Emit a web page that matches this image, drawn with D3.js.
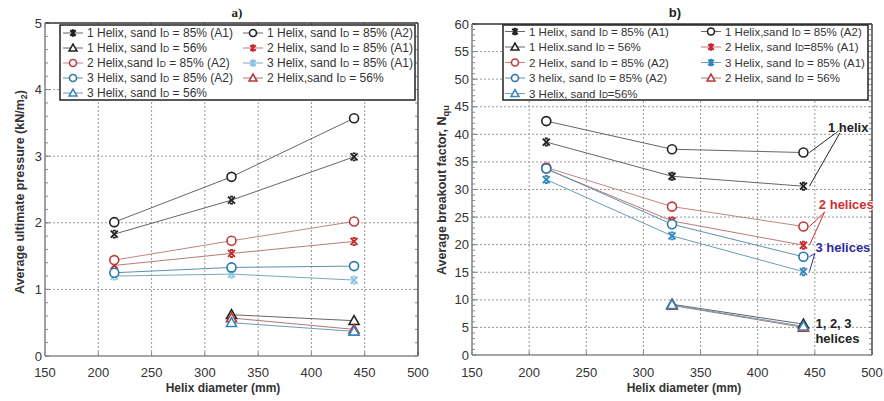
<!DOCTYPE html>
<html><head><meta charset="utf-8">
<script src="https://cdn.jsdelivr.net/npm/d3@7/dist/d3.min.js"></script>
<style>body{margin:0;background:#fff}svg{display:block;font-family:"Liberation Sans",Arial,sans-serif}</style>
</head><body>
<svg id="c" width="884" height="401"></svg>
<script>
// ---------- DATA ----------
const diameters = [215, 325, 440];
const diametersLoose = [325, 440];
const xTicks = [150, 200, 250, 300, 350, 400, 450, 500];
const yTicksA = [0, 1, 2, 3, 4, 5];
const yTicksB = [0, 5, 10, 15, 20, 25, 30, 35, 40, 45, 50, 55, 60];

// a) average ultimate pressure (kN/m2)
const pres1hA1 = [1.83, 2.34, 2.99];
const pres1hA2 = [2.01, 2.69, 3.57];
const pres2hA1 = [1.36, 1.54, 1.72];
const pres2hA2 = [1.44, 1.73, 2.02];
const pres3hA1 = [1.20, 1.23, 1.14];
const pres3hA2 = [1.25, 1.33, 1.35];
const pres1h56 = [0.62, 0.53];
const pres2h56 = [0.57, 0.40];
const pres3h56 = [0.50, 0.37];

// b) average breakout factor Nqu
const nqu1hA1 = [38.6, 32.4, 30.6];
const nqu1hA2 = [42.4, 37.3, 36.7];
const nqu2hA1 = [33.7, 24.3, 19.9];
const nqu2hA2 = [34.0, 26.9, 23.3];
const nqu3hA1 = [31.8, 21.6, 15.1];
const nqu3hA2 = [33.8, 23.7, 17.8];
const nqu1h56 = [9.2, 5.6];
const nqu2h56 = [9.0, 5.0];
const nqu3h56 = [9.1, 5.2];

const legendA = ["1 Helix, sand |D| = 85% (A1)", "1 Helix, sand |D| = 85% (A2)", "1 Helix, sand |D| = 56%", "2 Helix, sand |D| = 85% (A1)",
  "2 Helix,sand |D| = 85% (A2)", "3 Helix, sand |D| = 85% (A1)", "3 Helix, sand |D| = 85% (A2)", "2 Helix,sand |D| = 56%", "3 Helix, sand |D| = 56%"];
const legendB = ["1 Helix, sand |D| = 85% (A1)", "1 Helix,sand |D| = 85% (A2)", "1 Helix.sand |D| = 56%", "2 Helix, sand |D|=85% (A1)",
  "2 Helix, sand |D| = 85% (A2)", "3 Helix, sand |D| = 85% (A1)", "3 helix, sand |D| = 85% (A2)", "2 Helix, sand |D| = 56%", "3 Helix, sand |D|=56%"];

// styles per series (order matches legend order)
const styles = [
  {sym: "x", col: "#222", line: "#666"},
  {sym: "o", col: "#222", line: "#666"},
  {sym: "t", col: "#222", line: "#666"},
  {sym: "x", col: "#c8282d", line: "#b77a7a"},
  {sym: "o", col: "#c23a3a", line: "#c08585"},
  {sym: "x", col: "#86c6e2", line: "#7aa9bf"},
  {sym: "o", col: "#2b77a8", line: "#5f8fa9"},
  {sym: "t", col: "#b83838", line: "#aa7777"},
  {sym: "t", col: "#3a86bb", line: "#6c9cb8"}
];
const stylesB = styles.map((s, i) => i === 5 ? {sym: "x", col: "#2f86b8", line: "#6a9eb6"} : s);

const seriesA = [pres1hA1, pres1hA2, pres1h56, pres2hA1, pres2hA2, pres3hA1, pres3hA2, pres2h56, pres3h56];
const seriesB = [nqu1hA1, nqu1hA2, nqu1h56, nqu2hA1, nqu2hA2, nqu3hA1, nqu3hA2, nqu2h56, nqu3h56];

const svg = d3.select("#c");

function marker(g, sym, col, x, y, k = 1) {
  if (sym === "o") {
    g.append("circle").attr("cx", x).attr("cy", y).attr("r", 4.5 * k).attr("fill", "#fff").attr("stroke", col).attr("stroke-width", 1.6);
  } else if (sym === "t") {
    const s = 5 * k;
    g.append("path").attr("d", `M${x},${y - s} L${x + s},${y + s * 0.75} L${x - s},${y + s * 0.75} Z`)
      .attr("fill", "#fff").attr("stroke", col).attr("stroke-width", 1.6);
  } else {
    const s = 3.5 * k, c = 1.5 * k;
    g.append("path").attr("d", `M${x - s},${y - s} L${x + s},${y + s} M${x - s},${y + s} L${x + s},${y - s} M${x - c},${y - s} L${x + c},${y - s} M${x - c},${y + s} L${x + c},${y + s}`)
      .attr("fill", "none").attr("stroke", col).attr("stroke-width", 1.9);
  }
}

function idText(sel, str) {
  const parts = str.split("|");
  sel.append("tspan").text(parts[0] + "I");
  sel.append("tspan").attr("font-size", "0.72em").text(parts[1]);
  sel.append("tspan").text(parts[2]);
}

function chart(opt) {
  const g = svg.append("g");
  const x = d3.scaleLinear().domain([150, 500]).range([opt.x0, opt.x1]);
  const y = d3.scaleLinear().domain(opt.ydom).range([opt.y0, opt.y1]);
  // grid
  g.selectAll(".gx").data(xTicks.slice(1, -1)).join("line")
    .attr("x1", d => x(d)).attr("x2", d => x(d)).attr("y1", opt.y0).attr("y2", opt.y1)
    .attr("stroke", "#999").attr("stroke-width", 1).attr("stroke-dasharray", "2,2");
  g.selectAll(".gy").data(opt.yticks.slice(1, -1)).join("line")
    .attr("y1", d => y(d)).attr("y2", d => y(d)).attr("x1", opt.x0).attr("x2", opt.x1)
    .attr("stroke", "#999").attr("stroke-width", 1).attr("stroke-dasharray", "2,2");
  // minor ticks
  const minor = d3.range(opt.ydom[0], opt.ydom[1] + 1e-9, opt.minor);
  g.selectAll(".mt").data(minor).join("line")
    .attr("x1", opt.x0).attr("x2", opt.x0 + 3).attr("y1", d => y(d)).attr("y2", d => y(d))
    .attr("stroke", "#888").attr("stroke-width", 1);
  g.selectAll(".mtr").data(minor).join("line")
    .attr("x1", opt.x1).attr("x2", opt.x1 - 3).attr("y1", d => y(d)).attr("y2", d => y(d))
    .attr("stroke", "#888").attr("stroke-width", 1);
  g.selectAll(".xt").data(xTicks).join("line")
    .attr("x1", d => x(d)).attr("x2", d => x(d)).attr("y1", opt.y0).attr("y2", opt.y0 - 4)
    .attr("stroke", "#888");
  g.selectAll(".xtt").data(xTicks).join("line")
    .attr("x1", d => x(d)).attr("x2", d => x(d)).attr("y1", opt.y1).attr("y2", opt.y1 + 4)
    .attr("stroke", "#888");
  g.selectAll(".ytl").data(opt.yticks).join("line")
    .attr("x1", opt.x0).attr("x2", opt.x0 + 5).attr("y1", d => y(d)).attr("y2", d => y(d)).attr("stroke", "#888");
  // frame
  g.append("line").attr("x1", opt.x0).attr("x2", opt.x1).attr("y1", opt.y1).attr("y2", opt.y1).attr("stroke", "#333").attr("stroke-width", 1.6);
  g.append("line").attr("x1", opt.x1).attr("x2", opt.x1).attr("y1", opt.y1).attr("y2", opt.y0).attr("stroke", "#555").attr("stroke-width", 1.6);
  g.append("line").attr("x1", opt.x0).attr("x2", opt.x0).attr("y1", opt.y1).attr("y2", opt.y0).attr("stroke", "#888").attr("stroke-width", 1.6);
  g.append("line").attr("x1", opt.x0).attr("x2", opt.x1).attr("y1", opt.y0).attr("y2", opt.y0).attr("stroke", "#888").attr("stroke-width", 1.6);
  // tick labels
  g.selectAll(".xl").data(xTicks).join("text")
    .attr("x", d => x(d)).attr("y", 377).attr("text-anchor", "middle").attr("font-size", 13).attr("fill", "#333").text(d => d);
  g.selectAll(".yl").data(opt.yticks).join("text")
    .attr("x", opt.x0 - 3).attr("y", d => y(d) + 4.5).attr("text-anchor", "end").attr("font-size", 13).attr("fill", "#333").text(d => d);
  // axis titles
  g.append("text").attr("x", opt.xtitleX).attr("y", 392).attr("text-anchor", "middle").attr("font-size", 12).attr("font-weight", "bold").attr("fill", "#333").text("Helix diameter (mm)");
  const yt = g.append("text").attr("transform", `translate(${opt.ytitleX},${opt.ytitleY}) rotate(-90)`)
    .attr("text-anchor", "middle").attr("font-size", 12.5).attr("font-weight", "bold").attr("fill", "#333");
  opt.ytitle(yt);
  // title
  g.append("text").attr("x", opt.titleX).attr("y", 17).attr("text-anchor", "middle").attr("font-size", 13).attr("font-weight", "bold")
    .attr("font-family", opt.titleFont).attr("fill", "#222").text(opt.title);
  // series
  const line = d3.line().x(d => x(d[0])).y(d => y(d[1]));
  opt.series.forEach((vals, i) => {
    const xs = vals.length === 3 ? diameters : diametersLoose;
    const pts = vals.map((v, j) => [xs[j], v]);
    g.append("path").attr("d", line(pts)).attr("fill", "none").attr("stroke", opt.styles[i].line).attr("stroke-width", 1);
  });
  opt.series.forEach((vals, i) => {
    const xs = vals.length === 3 ? diameters : diametersLoose;
    vals.forEach((v, j) => marker(g, opt.styles[i].sym, opt.styles[i].col, x(xs[j]), y(v)));
  });
  // legend
  const L = opt.legend;
  g.append("rect").attr("x", L.x).attr("y", L.y).attr("width", L.w).attr("height", L.h).attr("fill", "#fff").attr("stroke", "#222").attr("stroke-width", 1.5);
  opt.labels.forEach((lab, i) => {
    const col = i % 2, row = Math.floor(i / 2);
    const mx = col === 0 ? L.m1 : L.m2;
    const ry = L.r0 + row * L.dr;
    g.append("line").attr("x1", mx - 10).attr("x2", mx + 10).attr("y1", ry).attr("y2", ry).attr("stroke", opt.styles[i].line).attr("stroke-width", 1);
    marker(g, opt.styles[i].sym, opt.styles[i].col, mx, ry, 0.78);
    const t = g.append("text").attr("x", mx + 14).attr("y", ry + 4.3).attr("font-size", L.fs).attr("fill", "#333");
    idText(t, lab);
  });
  return {x, y, g};
}

const A = chart({
  x0: 45, x1: 418, y0: 356, y1: 23, ydom: [0, 5], yticks: yTicksA, minor: 0.2,
  series: seriesA, styles: styles, labels: legendA,
  legend: {x: 60, y: 25, w: 355, h: 75, m1: 73, m2: 253, r0: 33, dr: 15, fs: 12},
  xtitleX: 223, ytitleX: 24, ytitleY: 192, titleX: 237, title: "a)", titleFont: "Liberation Serif",
  ytitle: t => { t.append("tspan").text("Average ultimate pressure (kN/m"); t.append("tspan").attr("font-size", "0.7em").attr("dy", 3).text("2"); t.append("tspan").attr("dy", -3).text(")"); }
});

const B = chart({
  x0: 472, x1: 872, y0: 355, y1: 24, ydom: [0, 60], yticks: yTicksB, minor: 1,
  series: seriesB, styles: stylesB, labels: legendB,
  legend: {x: 503, y: 25, w: 365, h: 75, m1: 515, m2: 711, r0: 31.5, dr: 15.5, fs: 11.5},
  xtitleX: 684, ytitleX: 446, ytitleY: 190, titleX: 675, title: "b)", titleFont: "Liberation Sans",
  ytitle: t => { t.append("tspan").text("Average breakout factor, N"); t.append("tspan").attr("font-size", "0.75em").attr("dy", 3).text("qu"); }
});

// annotations on b), anchored in data units
const annots = [
  {text: ["1 helix"], col: "#222", tx: 461.5, ty: 40.4, ox: 474.5, oy: 41.2, targets: [nqu1hA2[2], nqu1hA1[2]]},
  {text: ["2 helices"], col: "#d02f2f", tx: 453.5, ty: 26.4, ox: 458.5, oy: 25.9, targets: [nqu2hA2[2], nqu2hA1[2]]},
  {text: ["3 helices"], col: "#2d2d9c", tx: 450.5, ty: 18.6, ox: 450, oy: 18.4, targets: [nqu3hA2[2], nqu3hA1[2]]},
  {text: ["1, 2, 3", "helices"], col: "#222", tx: 450.5, ty: 4.9, targets: []}
];
annots.forEach(a => {
  a.targets.forEach(v => {
    B.g.append("line").attr("x1", B.x(a.ox)).attr("y1", B.y(a.oy)).attr("x2", B.x(440) + 6).attr("y2", B.y(v))
      .attr("stroke", a.col).attr("stroke-width", 1);
  });
  a.text.forEach((s, k) => {
    B.g.append("text").attr("x", B.x(a.tx)).attr("y", B.y(a.ty) + k * 15).attr("font-size", 13).attr("font-weight", "bold")
      .attr("fill", a.col).attr("stroke", "#fff").attr("stroke-width", 2).attr("paint-order", "stroke").text(s);
  });
});
</script>
</body></html>
